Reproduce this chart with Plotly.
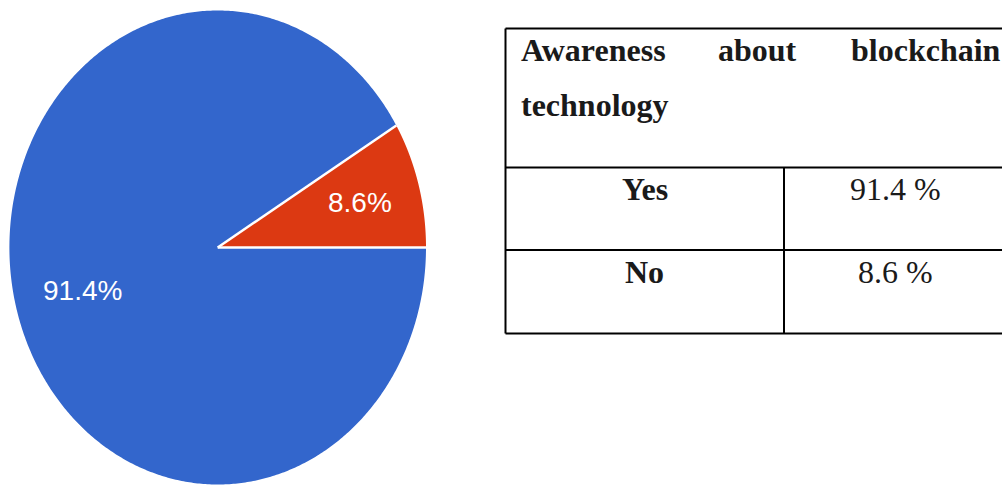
import numpy as np
import plotly.graph_objects as go

# Survey answers: awareness about blockchain technology
answers = ["Yes", "No"]
shares = [91.4, 8.6]
slice_colors = ["#3366CC", "#DC3912"]
header_words = ["Awareness", "about", "blockchain"]
header_line2 = "technology"

W, H = 1002, 485

# pie geometry (pixels): centre and the two radii of the drawn ellipse
cx, cy, rx, ry = 217.7, 247.5, 208.3, 237.0
pad = 1.03
label_radius = [0.675, 0.71]


def px(x):
    return x / W


def py(y):
    return 1 - y / H


fig = go.Figure()

# slices run clockwise from the east direction
total = sum(shares)
start = 0.0
edge_angles = []
label_pos = []
for ans, val, col, lr in zip(answers, shares, slice_colors, label_radius):
    sweep = 360.0 * val / total
    theta = np.radians(np.linspace(start, start - sweep, 600))
    xs = np.concatenate([[0.0], np.cos(theta), [0.0]])
    ys = np.concatenate([[0.0], np.sin(theta), [0.0]])
    fig.add_trace(go.Scatter(
        x=xs, y=ys, fill="toself", fillcolor=col, mode="none",
        hoverinfo="skip", name=ans,
    ))
    mid = np.radians(start - sweep / 2)
    label_pos.append((lr * np.cos(mid), lr * np.sin(mid), f"{val}%"))
    edge_angles.append(start)
    start -= sweep

# white separators between slices
sx, sy = [], []
for a in edge_angles:
    r = np.radians(a)
    sx += [0.0, np.cos(r), None]
    sy += [0.0, np.sin(r), None]
fig.add_trace(go.Scatter(x=sx, y=sy, mode="lines",
                         line=dict(color="white", width=2.5),
                         hoverinfo="skip"))

for lx, ly, txt in label_pos:
    fig.add_annotation(x=lx, y=ly, xref="x", yref="y", text=txt,
                       showarrow=False, xanchor="center", yanchor="middle",
                       font=dict(family="Liberation Sans, Arial, sans-serif",
                                 size=28, color="white"))

# axes that map the unit circle onto the ellipse
left = max(0.0, cx - pad * rx)
right = cx + pad * rx
top = max(0.0, cy - pad * ry)
bottom = min(H, cy + pad * ry)
fig.update_xaxes(domain=[left / W, right / W],
                 range=[-(cx - left) / rx, (right - cx) / rx],
                 visible=False, fixedrange=True)
fig.update_yaxes(domain=[(H - bottom) / H, (H - top) / H],
                 range=[-(bottom - cy) / ry, (cy - top) / ry],
                 visible=False, fixedrange=True)

# table grid
L, R = 505.5, 1006
T, HB, RB, B = 28.5, 167.5, 250, 333.5
CD = 784
line = dict(color="black", width=2)
for y in (T, HB, RB, B):
    fig.add_shape(type="line", xref="paper", yref="paper",
                  x0=px(L), x1=px(R), y0=py(y), y1=py(y), line=line)
fig.add_shape(type="line", xref="paper", yref="paper",
              x0=px(L), x1=px(L), y0=py(T), y1=py(B), line=line)
fig.add_shape(type="line", xref="paper", yref="paper",
              x0=px(CD), x1=px(CD), y0=py(HB), y1=py(B), line=line)

serif = "Liberation Serif, Times New Roman, serif"
tfont = dict(family=serif, size=32, color="#1a1a1a")


def cell_text(x, y, text, anchor="center"):
    fig.add_annotation(x=px(x), y=py(y), xref="paper", yref="paper",
                       text=text, showarrow=False, xanchor=anchor,
                       yanchor="middle", font=tfont)


# justified header
cell_text(519, 50, f"<b>{header_words[0]}</b>", "left")
cell_text(716, 50, f"<b>{header_words[1]}</b>", "left")
cell_text(849, 50, f"<b>{header_words[2]}</b>", "left")
cell_text(519, 105, f"<b>{header_line2}</b>", "left")

rows_y = [189, 271.5]
for ans, val, y in zip(answers, shares, rows_y):
    cell_text((L + CD) / 2, y, f"<b>{ans}</b>")
    cell_text((CD + R) / 2, y, f"{val} %")

fig.update_layout(width=W, height=H, margin=dict(l=0, r=0, t=0, b=0),
                  paper_bgcolor="white", plot_bgcolor="white",
                  showlegend=False)

fig.write_html("out.html", config={"displayModeBar": False})
